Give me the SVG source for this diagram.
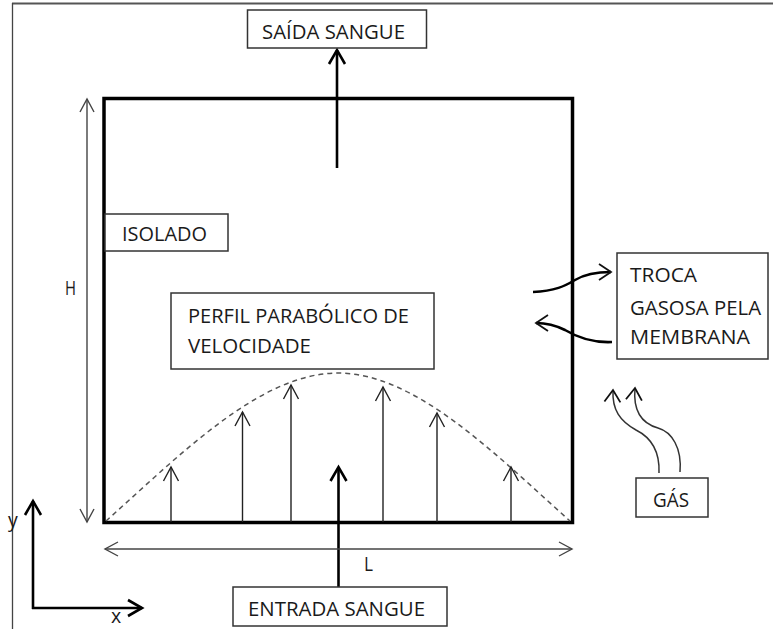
<svg xmlns="http://www.w3.org/2000/svg" width="773" height="629" viewBox="0 0 773 629">
<style>
.lbl{font-family:"Open Sans",Lato,"Liberation Sans",sans-serif;font-size:19.5px;fill:#1a1a1a}
.box{fill:#fff;stroke:#333;stroke-width:1.5}
.thin{stroke:#222;stroke-width:1.4;fill:none}
.bold{stroke:#000;stroke-width:2.6;fill:none}
.dim{stroke:#444;stroke-width:1.4;fill:none}
</style>
<defs>
<marker id="hb" markerUnits="userSpaceOnUse" markerWidth="30" markerHeight="30" refX="0" refY="0" viewBox="-20 -15 30 30" orient="auto" overflow="visible">
<path d="M-14,-8 L0,0 L-14,8" fill="none" stroke="#000" stroke-width="2.6"/>
</marker>
<marker id="ht" markerUnits="userSpaceOnUse" markerWidth="30" markerHeight="30" refX="0" refY="0" viewBox="-20 -15 30 30" orient="auto" overflow="visible">
<path d="M-14,-7.5 L0,0 L-14,7.5" fill="none" stroke="#222" stroke-width="1.4"/>
</marker>
<marker id="hd" markerUnits="userSpaceOnUse" markerWidth="30" markerHeight="30" refX="0" refY="0" viewBox="-20 -15 30 30" orient="auto-start-reverse" overflow="visible">
<path d="M-13,-7 L0,0 L-13,7" fill="none" stroke="#444" stroke-width="1.4"/>
</marker>
<marker id="hc" markerUnits="userSpaceOnUse" markerWidth="30" markerHeight="30" refX="0" refY="0" viewBox="-20 -15 30 30" orient="auto" overflow="visible">
<path d="M-12,-8 L0,0 L-12,8" fill="none" stroke="#111" stroke-width="1.8"/>
</marker>
</defs>

<!-- outer frame -->
<g id="frame">
<line x1="12" y1="3.5" x2="773" y2="3.5" stroke="#555" stroke-width="2"/>
<line x1="12.5" y1="3" x2="12.5" y2="629" stroke="#444" stroke-width="1.3"/>
</g>

<!-- main chamber -->
<g id="chamber">
<rect x="104" y="98.5" width="468.5" height="424" fill="none" stroke="#000" stroke-width="3.5"/>
<path d="M106,521 C180,455 260,373 338,373 C416,373 496,455 570,521" fill="none" stroke="#555" stroke-width="1.5" stroke-dasharray="5,4"/>
</g>

<g id="connectors">
<!-- velocity profile arrows -->
<line class="thin" x1="171" y1="522" x2="171" y2="467" marker-end="url(#ht)"/>
<line class="thin" x1="242.5" y1="522" x2="242.5" y2="412" marker-end="url(#ht)"/>
<line class="thin" x1="291" y1="522" x2="291" y2="385" marker-end="url(#ht)"/>
<line class="thin" x1="383" y1="522" x2="383" y2="387" marker-end="url(#ht)"/>
<line class="thin" x1="437" y1="522" x2="437" y2="413" marker-end="url(#ht)"/>
<line class="thin" x1="511" y1="522" x2="511" y2="467" marker-end="url(#ht)"/>
<!-- blood in / out -->
<line class="bold" x1="337" y1="168" x2="337" y2="50" marker-end="url(#hb)"/>
<line class="bold" x1="338.5" y1="587" x2="338.5" y2="467" marker-end="url(#hb)"/>
<!-- dimensions -->
<line class="dim" x1="87" y1="99" x2="87" y2="522" marker-start="url(#hd)" marker-end="url(#hd)"/>
<line class="dim" x1="105" y1="549" x2="572" y2="549" marker-start="url(#hd)" marker-end="url(#hd)"/>
<!-- axes -->
<line class="bold" x1="33" y1="609" x2="33" y2="501" marker-end="url(#hb)"/>
<line class="bold" x1="32" y1="608" x2="142" y2="608" marker-end="url(#hb)"/>
<!-- gas exchange -->
<path class="bold" stroke-width="1.8" d="M533,292 C555,291 565,286 575,280 C585,274 595,272 611,272" marker-end="url(#hc)"/>
<path class="bold" stroke-width="1.8" d="M612,342 C590,343 575,336 565,330 C555,325 548,323 536,323" marker-end="url(#hc)"/>
<!-- gas wavy arrows -->
<path d="M659,473 C660,450 650,437 636,430 C620,421 612,410 613,390" fill="none" stroke="#333" stroke-width="1.5" marker-end="url(#hc)"/>
<path d="M680,472 C682,448 672,432 658,428 C640,423 633,410 635,388" fill="none" stroke="#333" stroke-width="1.5" marker-end="url(#hc)"/>
</g>

<g id="saida">
<rect class="box" x="247.5" y="10" width="179" height="38"/>
<text class="lbl" x="262" y="38.5" textLength="143" lengthAdjust="spacingAndGlyphs">SAÍDA SANGUE</text>
</g>

<g id="entrada">
<rect class="box" x="233" y="587" width="214" height="39"/>
<text class="lbl" x="248" y="616" textLength="177" lengthAdjust="spacingAndGlyphs">ENTRADA SANGUE</text>
</g>

<g id="isolado">
<rect class="box" x="105" y="214" width="123" height="37"/>
<text class="lbl" x="122" y="241" textLength="85" lengthAdjust="spacingAndGlyphs">ISOLADO</text>
</g>

<g id="perfil">
<rect class="box" x="171" y="293" width="263" height="76"/>
<text class="lbl" x="188" y="323" textLength="221" lengthAdjust="spacingAndGlyphs">PERFIL PARABÓLICO DE</text>
<text class="lbl" x="188" y="353" textLength="123" lengthAdjust="spacingAndGlyphs">VELOCIDADE</text>
</g>

<g id="troca">
<rect class="box" x="617" y="253" width="151" height="106"/>
<text class="lbl" x="630" y="282" textLength="67" lengthAdjust="spacingAndGlyphs">TROCA</text>
<text class="lbl" x="630" y="315" textLength="131" lengthAdjust="spacingAndGlyphs">GASOSA PELA</text>
<text class="lbl" x="630" y="344" textLength="120" lengthAdjust="spacingAndGlyphs">MEMBRANA</text>
</g>

<g id="gas">
<rect class="box" x="636" y="478" width="72" height="39"/>
<text class="lbl" x="653" y="507" textLength="36" lengthAdjust="spacingAndGlyphs">GÁS</text>
</g>

<g id="labels">
<text class="lbl" x="65" y="295" textLength="11" lengthAdjust="spacingAndGlyphs">H</text>
<text class="lbl" x="364" y="571" textLength="9" lengthAdjust="spacingAndGlyphs">L</text>
<text class="lbl" x="8" y="527">y</text>
<text class="lbl" x="111" y="623">x</text>
</g>
</svg>
